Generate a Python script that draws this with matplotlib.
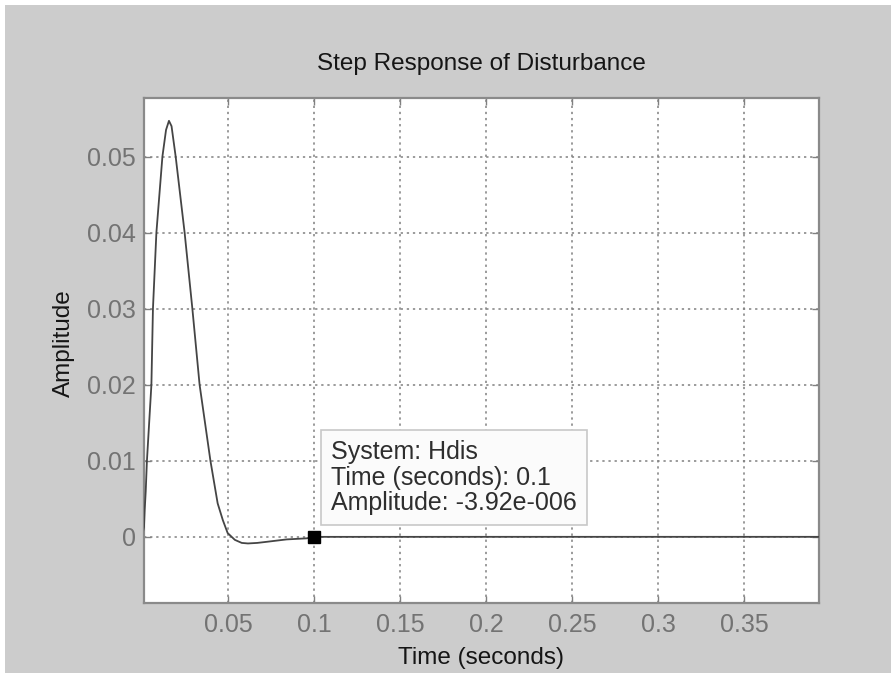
import numpy as np
import matplotlib
matplotlib.use("Agg")
import matplotlib.pyplot as plt
from matplotlib.patches import Rectangle

plt.rcParams["font.family"] = ["Liberation Sans", "DejaVu Sans"]

# step response of the disturbance transfer function
t = [0.0, 0.0012, 0.0016, 0.0022, 0.0029, 0.0042, 0.0055, 0.0064, 0.0084,
     0.0119, 0.0140, 0.0157, 0.0172, 0.0196, 0.0248, 0.0293, 0.0335, 0.0398,
     0.0440, 0.0470, 0.0498, 0.0540, 0.0580, 0.0616, 0.0670, 0.0723, 0.0840,
     0.0956, 0.1, 0.2, 0.3, 0.394]
amp = [0.0, 0.0013, 0.0035, 0.0060, 0.0100, 0.0150, 0.0200, 0.0300, 0.0400,
       0.0500, 0.0535, 0.0547, 0.0540, 0.0500, 0.0400, 0.0300, 0.0200, 0.0100,
       0.0044, 0.0022, 0.0005, -0.0004, -0.0008, -0.00087, -0.0008, -0.00066,
       -0.00034, -0.0002, -3.92e-6, 0.0, 0.0, 0.0]

tip_t = 0.1
tip_amp = -3.92e-6
tip_lines = ["System: Hdis", "Time (seconds): 0.1", "Amplitude: -3.92e-006"]

xticks = [0.05, 0.1, 0.15, 0.2, 0.25, 0.3, 0.35]
yticks = [0, 0.01, 0.02, 0.03, 0.04, 0.05]

fig = plt.figure(figsize=(8.91, 6.73), dpi=100, facecolor="white")
fig.patches.append(Rectangle((5 / 891, 0), 1, 1 - 5 / 673, transform=fig.transFigure,
                             facecolor="#cccccc", edgecolor="none", zorder=-10))

ax = fig.add_axes([144 / 891, 1 - 603 / 673, (819 - 144) / 891, (603 - 98) / 673])
ax.set_facecolor("white")

ax.plot(t, amp, color="#454545", linewidth=1.3, zorder=3)
ax.plot([tip_t], [tip_amp], marker="s", color="black", markersize=8.5, zorder=5)

ax.set_xlim(0.0012, 0.3934)
ax.set_ylim(-0.0087, 0.0577)
ax.set_xticks(xticks)
ax.set_xticklabels(["0.05", "0.1", "0.15", "0.2", "0.25", "0.3", "0.35"])
ax.set_yticks(yticks)
ax.set_yticklabels(["0", "0.01", "0.02", "0.03", "0.04", "0.05"])

ax.grid(True, color="#808080", linestyle=(0, (1.5, 2.5)), linewidth=1.1)
ax.tick_params(direction="in", length=5, width=1, color="#808080",
               labelcolor="#737373", labelsize=18, top=True, right=True)
ax.tick_params(axis="x", pad=7)
ax.tick_params(axis="y", pad=6)
for s in ax.spines.values():
    s.set_color("#8a8a8a")
    s.set_linewidth(1.6)

ax.set_title("Step Response of Disturbance", fontsize=17.5, color="#151515", pad=20)
ax.set_xlabel("Time (seconds)", fontsize=17.5, color="#151515")
ax.set_ylabel("Amplitude", fontsize=17.5, color="#151515")
ax.xaxis.set_label_coords(0.5, -0.087)
ax.yaxis.set_label_coords(-0.102, 0.515)

ax.text(0.1101, 0.0078, "\n".join(tip_lines), fontsize=18, color="#2e2e2e",
        va="center", ha="left", linespacing=1.1, zorder=6,
        bbox=dict(boxstyle="square,pad=0.4", facecolor="#fbfbfb",
                  edgecolor="#c8c8c8", linewidth=1.2))

fig.savefig("out.png", dpi=100, facecolor=fig.get_facecolor())
